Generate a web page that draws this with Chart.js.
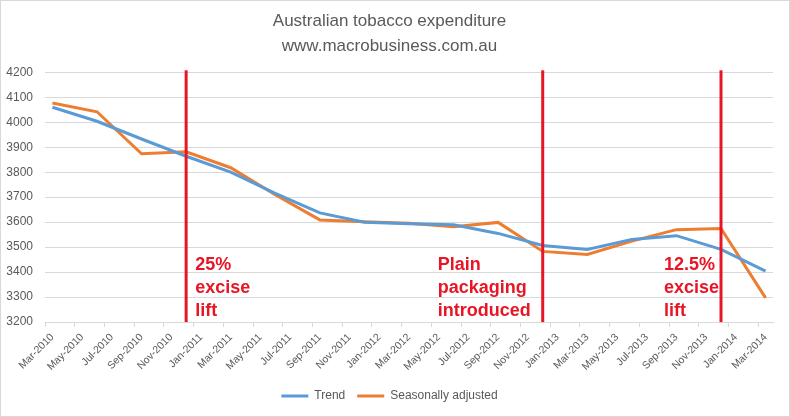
<!DOCTYPE html>
<html>
<head>
<meta charset="utf-8">
<script src="https://cdn.jsdelivr.net/npm/chart.js@4.4.1/dist/chart.umd.min.js"></script>
<style>
  html, body { margin: 0; padding: 0; background: #fff; }
  #wrap { width: 790px; height: 417px; position: relative; }
</style>
</head>
<body>
<div id="wrap"><canvas id="chart"></canvas></div>
<script>
// quarterly observations
const quarters = ['Mar-2010', 'Jun-2010', 'Sep-2010', 'Dec-2010', 'Mar-2011', 'Jun-2011', 'Sep-2011', 'Dec-2011',
  'Mar-2012', 'Jun-2012', 'Sep-2012', 'Dec-2012', 'Mar-2013', 'Jun-2013', 'Sep-2013', 'Dec-2013', 'Mar-2014']
const trend = [4060, 4004, 3933, 3864, 3800, 3715, 3637, 3600, 3594, 3590, 3555, 3507, 3491, 3531, 3546, 3491, 3404]
const seasAdj = [4077, 4042, 3874, 3882, 3818, 3710, 3609, 3602, 3596, 3582, 3599, 3483, 3471, 3524, 3570, 3575, 3297]

// policy events (drawn as red vertical lines)
const eventMonths = ['Dec-2010', 'Dec-2012', 'Dec-2013']
const eventTexts = [['25%', 'excise', 'lift'], ['Plain', 'packaging', 'introduced'], ['12.5%', 'excise', 'lift']]
const eventTextOffset = [9, -105, -57]

// monthly category axis, Mar-2010 .. Mar-2014
const monthNames = ['Jan', 'Feb', 'Mar', 'Apr', 'May', 'Jun', 'Jul', 'Aug', 'Sep', 'Oct', 'Nov', 'Dec']
const months = []
for (let i = 2; i <= 50; i++) {
  months.push(monthNames[i % 12] + '-' + (2010 + Math.floor(i / 12)))
}

const red = 'rgb(232, 22, 36)'
const grey = '#595959'
const gridColor = '#d9d9d9'

const eventsPlugin = {
  id: 'events',
  beforeDraw(chart) {
    const ctx = chart.ctx
    ctx.save()
    ctx.strokeStyle = gridColor
    ctx.lineWidth = 1
    ctx.strokeRect(0.5, 0.5, chart.width - 1, chart.height - 1)
    ctx.restore()
  },
  afterDatasetsDraw(chart) {
    const ctx = chart.ctx
    const xs = chart.scales.x
    const area = chart.chartArea
    ctx.save()
    eventMonths.forEach((m, i) => {
      const x = xs.getPixelForValue(months.indexOf(m))
      ctx.strokeStyle = red
      ctx.lineWidth = 3
      ctx.beginPath()
      ctx.moveTo(x, area.top - 2)
      ctx.lineTo(x, area.bottom)
      ctx.stroke()

      ctx.fillStyle = red
      ctx.font = 'bold 18px "Liberation Sans", Arial, sans-serif'
      ctx.textBaseline = 'alphabetic'
      ctx.textAlign = 'left'
      eventTexts[i].forEach((t, j) => {
        ctx.fillText(t, x + eventTextOffset[i], 270 + j * 23)
      })
    })
    ctx.restore()
  }
}

new Chart(document.getElementById('chart'), {
  type: 'line',
  data: {
    labels: months,
    datasets: [
      {
        label: 'Trend',
        data: quarters.map((q, i) => ({ x: q, y: trend[i] })),
        borderColor: '#5b9bd5',
        backgroundColor: '#5b9bd5',
        borderWidth: 3,
        pointRadius: 0,
        tension: 0
      },
      {
        label: 'Seasonally adjusted',
        data: quarters.map((q, i) => ({ x: q, y: seasAdj[i] })),
        borderColor: '#ed7d31',
        backgroundColor: '#ed7d31',
        borderWidth: 3,
        pointRadius: 0,
        tension: 0
      }
    ]
  },
  options: {
    responsive: true,
    maintainAspectRatio: false,
    animation: false,
    layout: { padding: { left: 6, right: 17, top: 0, bottom: 5 } },
    scales: {
      x: {
        type: 'category',
        offset: true,
        border: { color: gridColor },
        grid: {
          offset: true,
          drawOnChartArea: false,
          tickLength: 5,
          color: (c) => (c.index % 2 === 0 ? gridColor : 'rgba(0,0,0,0)')
        },
        ticks: {
          autoSkip: false,
          maxRotation: 45,
          minRotation: 45,
          padding: 4,
          color: grey,
          font: { size: 10.5, family: '"Liberation Sans", Arial, sans-serif' },
          callback: (v, i) => (i % 2 === 0 ? months[i] : '')
        },
        afterFit(scale) {
          // rotated labels may hang past the left edge, like the original
          scale.paddingLeft = 0
          scale.height += 1
        }
      },
      y: {
        min: 3200,
        max: 4200,
        border: { display: false },
        grid: { color: gridColor, drawTicks: false },
        ticks: {
          stepSize: 100,
          padding: 12,
          color: grey,
          font: { size: 12, family: '"Liberation Sans", Arial, sans-serif' },
          callback: (v) => String(v)
        },
        afterFit(scale) {
          scale.width = 39
        }
      }
    },
    plugins: {
      title: {
        display: true,
        text: ['Australian tobacco expenditure', 'www.macrobusiness.com.au'],
        color: grey,
        font: { size: 17, weight: 'normal', family: '"Liberation Sans", Arial, sans-serif', lineHeight: 1.45 },
        padding: { top: 9, bottom: 14 }
      },
      legend: {
        position: 'bottom',
        labels: {
          color: grey,
          boxWidth: 27,
          boxHeight: 3,
          padding: 12,
          font: { size: 12, family: '"Liberation Sans", Arial, sans-serif' },
          generateLabels(chart) {
            return Chart.defaults.plugins.legend.labels.generateLabels(chart).map(l => {
              l.lineWidth = 0
              return l
            })
          }
        }
      },
      tooltip: { enabled: false }
    }
  },
  plugins: [eventsPlugin]
})
</script>
</body>
</html>
